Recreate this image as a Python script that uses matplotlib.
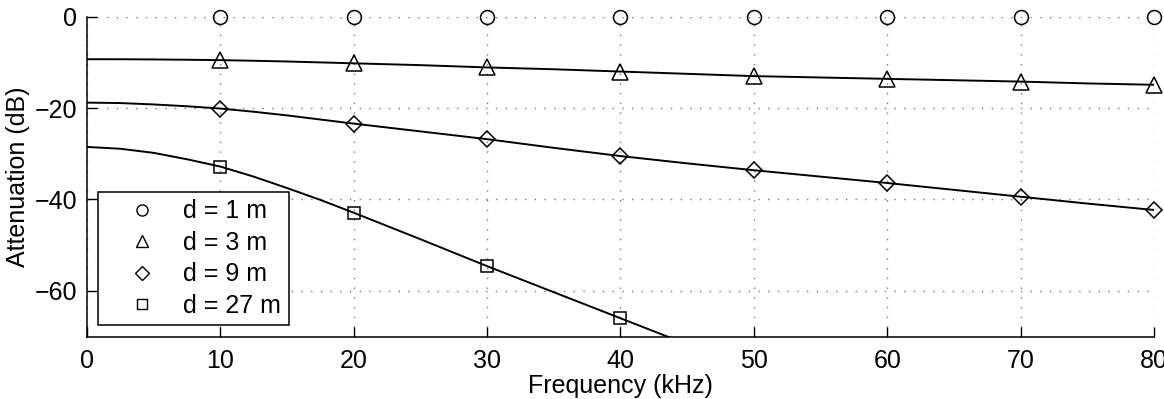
import matplotlib
matplotlib.use("Agg")
import matplotlib.pyplot as plt
from matplotlib.lines import Line2D

plt.rcParams['font.family'] = ['Liberation Sans', 'DejaVu Sans']

# measured points (markers)
freq_pts = [10, 20, 30, 40, 50, 60, 70, 80]
att_d1 = [0, 0, 0, 0, 0, 0, 0, 0]
att_d3 = [-9.5, -10.2, -11.1, -12.0, -13.0, -13.6, -14.2, -14.9]
att_d9 = [-20.1, -23.4, -26.8, -30.5, -33.6, -36.4, -39.4, -42.3]
freq_pts_d27 = [10, 20, 30, 40]
att_d27 = [-32.8, -42.9, -54.6, -66.0]

# model curves
freq_curve = [0, 2.5, 5, 7.5, 10, 12.5, 15, 17.5, 20, 25, 30, 35, 40, 45,
              50, 55, 60, 65, 70, 75, 80]
curve_d3 = [-9.3, -9.31, -9.35, -9.42, -9.5, -9.64, -9.8, -10.0, -10.2,
            -10.6, -11.1, -11.5, -12.0, -12.5, -13.0, -13.3, -13.6, -13.9,
            -14.2, -14.6, -14.9]
curve_d9 = [-18.8, -18.9, -19.2, -19.6, -20.1, -20.8, -21.6, -22.5, -23.4,
            -25.1, -26.8, -28.7, -30.5, -32.1, -33.6, -35.0, -36.4, -37.9,
            -39.4, -40.9, -42.3]
freq_curve_d27 = [0, 2.5, 5, 7.5, 10, 12.5, 15, 17.5, 20, 25, 30, 35, 40, 45]
curve_d27 = [-28.5, -28.9, -29.8, -31.2, -32.8, -35.0, -37.5, -40.1, -42.9,
             -48.7, -54.6, -60.3, -66.0, -71.7]

labels = ["d = 1 m", "d = 3 m", "d = 9 m", "d = 27 m"]
markers = ["o", "^", "D", "s"]

fig = plt.figure(figsize=(11.64, 3.99), dpi=100)
ax = fig.add_axes([0.0747, 0.1566, 0.9167, 0.8015])

lw = 1.4
ax.plot(freq_curve, curve_d3, color="black", lw=lw)
ax.plot(freq_curve, curve_d9, color="black", lw=lw)
ax.plot(freq_curve_d27, curve_d27, color="black", lw=lw)

mk = dict(color="black", markerfacecolor="none", linestyle="none",
          markeredgewidth=1.1, clip_on=False, zorder=5)
ax.plot(freq_pts, att_d1, marker="o", markersize=10, **mk)
ax.plot(freq_pts, att_d3, marker="^", markersize=11, **mk)
ax.plot(freq_pts, att_d9, marker="D", markersize=8, **mk)
ax.plot(freq_pts_d27, att_d27, marker="s", markersize=8.5, **mk)

ax.set_xlim(0, 80)
ax.set_ylim(-70, 0)
ax.set_xticks(range(0, 81, 10))
ax.set_yticks([0, -20, -40, -60])
ax.set_yticklabels(["0", "\u221220", "\u221240", "\u221260"])
ax.tick_params(direction="in", length=7, width=1, labelsize=18)
ax.tick_params(axis="x", pad=9)
ax.tick_params(axis="y", pad=7)

ax.spines["top"].set_visible(False)
ax.spines["right"].set_visible(False)
for s in ("left", "bottom"):
    ax.spines[s].set_linewidth(1.1)

ax.grid(True, linestyle=(0, (1, 6)), color="#777777", linewidth=1)

ax.set_xlabel("Frequency (kHz)", fontsize=18, labelpad=0.5)
ax.set_ylabel("Attenuation (dB)", fontsize=18, labelpad=3)

handles = [Line2D([], [], marker=m, color="black", markerfacecolor="none",
                  linestyle="none", markersize=s, markeredgewidth=1)
           for m, s in zip(markers, [8, 9, 7, 7])]
leg = ax.legend(handles, labels, loc="lower left", fontsize=18,
                frameon=True, fancybox=False, edgecolor="black",
                borderaxespad=0.45, handletextpad=0.2, labelspacing=0.3,
                borderpad=0.3, handlelength=2.9)
leg.get_frame().set_linewidth(1.1)
leg.get_frame().set_alpha(1)

fig.savefig("out.png", dpi=100)
